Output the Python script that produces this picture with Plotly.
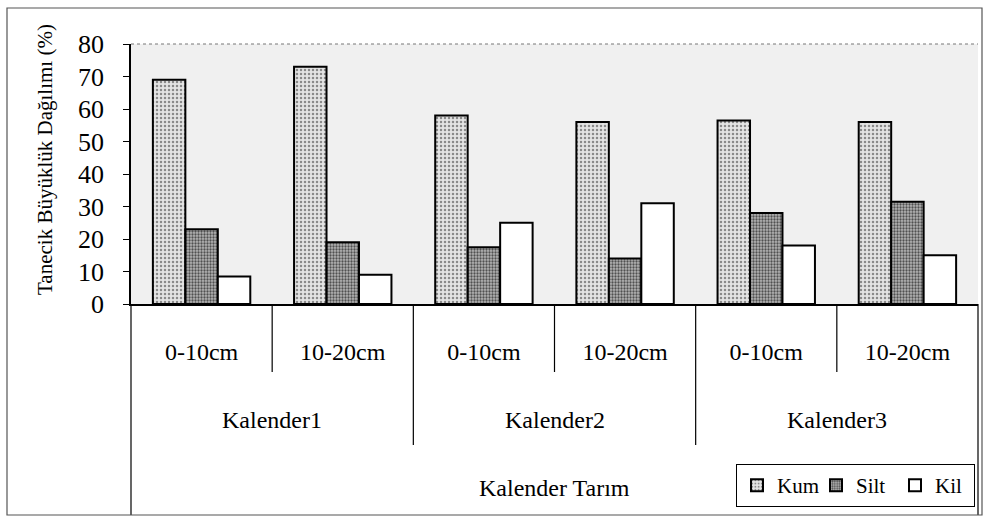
import plotly.graph_objects as go

# ---- data ----
groups = ["Kalender1", "Kalender2", "Kalender3"]
depth_labels = ["0-10cm", "10-20cm", "0-10cm", "10-20cm", "0-10cm", "10-20cm"]
kum = [69, 73, 58, 56, 56.5, 56]
silt = [23, 19, 17.5, 14, 28, 31.5]
kil = [8.5, 9, 25, 31, 18, 15]
y_ticks = [0, 10, 20, 30, 40, 50, 60, 70, 80]
overall_label = "Kalender Tarım"
y_title = "Tanecik Büyüklük Dağılımı (%)"

x_pos = list(range(len(depth_labels)))

W, H = 986, 518
L, R, T, B = 131, 8, 44, 214
PW, PH = W - L - R, H - T - B

def px_x(px):
    return (px - L) / PW

def px_y(py):
    return (H - B - py) / PH

FONT = "Liberation Serif, Times New Roman, serif"

fig = go.Figure()
fig.add_trace(go.Bar(
    name="Kum", x=x_pos, y=kum,
    marker=dict(color="#e4e4e4", line=dict(color="black", width=2),
                pattern=dict(shape=".", fgcolor="#8a8a8a", bgcolor="#e4e4e4",
                             size=4, solidity=0.3, fillmode="replace")),
))
fig.add_trace(go.Bar(
    name="Silt", x=x_pos, y=silt,
    marker=dict(color="#a8a8a8", line=dict(color="black", width=2),
                pattern=dict(shape=".", fgcolor="#505050", bgcolor="#b4b4b4",
                             size=3, solidity=0.45, fillmode="replace")),
))
fig.add_trace(go.Bar(
    name="Kil", x=x_pos, y=kil,
    marker=dict(color="white", line=dict(color="black", width=2)),
))

shapes = []
shapes.append(dict(type="line", xref="paper", yref="paper", x0=0, x1=1, y0=1, y1=1,
                   line=dict(color="#777", width=1, dash="dot")))
for b in [0.5, 2.5, 4.5]:
    shapes.append(dict(type="line", xref="x", yref="paper", x0=b, x1=b,
                       y0=0, y1=px_y(372), line=dict(color="black", width=1.2)))
for b in [1.5, 3.5]:
    shapes.append(dict(type="line", xref="x", yref="paper", x0=b, x1=b,
                       y0=0, y1=px_y(445), line=dict(color="black", width=1.2)))
for xe in [0, 1]:
    shapes.append(dict(type="line", xref="paper", yref="paper", x0=xe, x1=xe,
                       y0=0, y1=px_y(515), line=dict(color="black", width=1.2)))
shapes.append(dict(type="rect", xref="paper", yref="paper",
                   x0=px_x(7), x1=px_x(982), y0=px_y(515), y1=px_y(8),
                   line=dict(color="#555", width=1.2)))

annotations = []
for gi, g in enumerate(groups):
    annotations.append(dict(text=g, xref="x", yref="paper", x=gi * 2 + 0.5, y=px_y(420),
                            showarrow=False, font=dict(family=FONT, size=24, color="black"),
                            xanchor="center", yanchor="middle"))
annotations.append(dict(text=overall_label, xref="x", yref="paper", x=2.5, y=px_y(488),
                        showarrow=False, font=dict(family=FONT, size=24, color="black"),
                        xanchor="center", yanchor="middle"))
annotations.append(dict(text=y_title, xref="paper", yref="paper", x=px_x(45), y=px_y(160),
                        textangle=-90, showarrow=False,
                        font=dict(family=FONT, size=21, color="black"),
                        xanchor="center", yanchor="middle"))

fig.update_layout(
    width=W, height=H,
    margin=dict(l=L, r=R, t=T, b=B, autoexpand=False),
    paper_bgcolor="white", plot_bgcolor="#f0f0f0",
    barmode="group", bargap=0.31, bargroupgap=0,
    font=dict(family=FONT, color="black"),
    showlegend=True,
    legend=dict(orientation="h", xref="paper", yref="paper",
                x=px_x(975), y=px_y(507), xanchor="right", yanchor="bottom",
                bgcolor="white", bordercolor="black", borderwidth=1,
                font=dict(family=FONT, size=21, color="black"),
                itemwidth=30, entrywidth=34, entrywidthmode="pixels",
                tracegroupgap=0),
    xaxis=dict(range=[-0.5, 5.5], tickmode="array", tickvals=x_pos, ticktext=depth_labels,
               showline=True, linecolor="black", linewidth=1.5, ticks="",
               showgrid=False, zeroline=False, ticklabelstandoff=25,
               tickfont=dict(family=FONT, size=24, color="black")),
    yaxis=dict(range=[0, 80], tickmode="array", tickvals=y_ticks,
               showline=True, linecolor="black", linewidth=1.5,
               ticks="outside", ticklen=6, tickcolor="black", tickwidth=1.2,
               showgrid=False, zeroline=False, ticklabelstandoff=14,
               tickfont=dict(family=FONT, size=26, color="black")),
    shapes=shapes, annotations=annotations,
)

fig.write_html("out.html", config={"displayModeBar": False},
               post_script="document.body.style.margin='0';")
